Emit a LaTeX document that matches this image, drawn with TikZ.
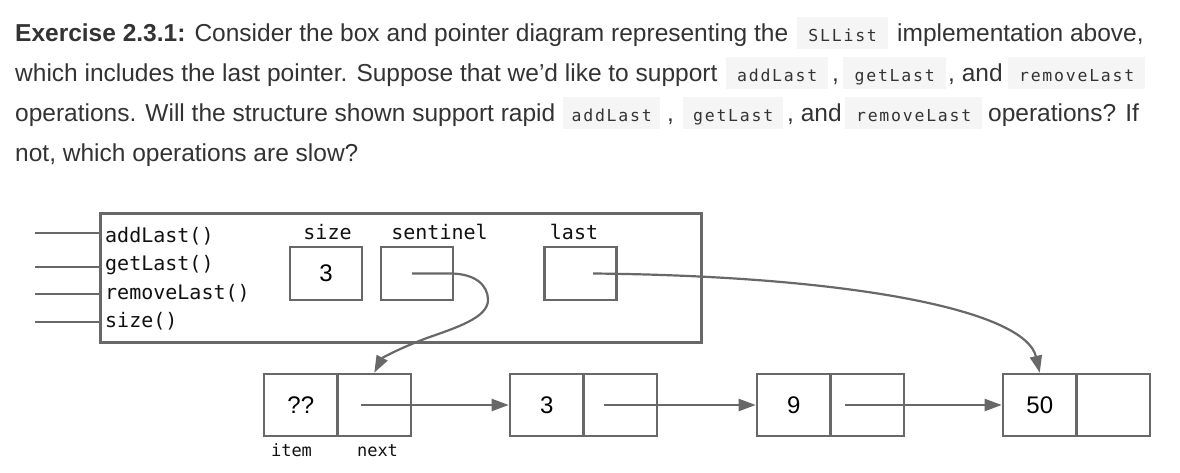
\documentclass[tikz,border=0pt]{standalone}
\usepackage{fontspec}
\setmainfont{Liberation Sans}
\newfontfamily\monofont{DejaVu Sans Mono}
\usetikzlibrary{arrows.meta,calc}
\definecolor{txt}{HTML}{333333}
\definecolor{codebg}{HTML}{F5F5F5}
\definecolor{ln}{HTML}{686868}
\definecolor{dtx}{HTML}{111111}
\makeatletter
\newcommand\spc[2]{\@tfor\mych:=#2\do{\makebox[#1][c]{\mych}}}
\makeatother
\begin{document}
\begin{tikzpicture}[x=1pt,y=-1pt,
  body/.style={anchor=base west, inner sep=0pt, text=txt, font=\fontsize{24.5}{28}\selectfont},
  code/.style={anchor=base west, inner sep=0pt, fill=codebg, text=txt, minimum height=31.5pt,
     text height=24.3pt, text depth=7.2pt, font=\monofont\fontsize{16.5}{18}\selectfont},
  box/.style={draw=ln, line width=2.6pt, inner sep=0pt},
  stub/.style={draw=ln, line width=2.6pt},
  dlabel/.style={anchor=base west, inner sep=0pt, text=dtx, font=\monofont\fontsize{20}{22}\selectfont},
  flabel/.style={anchor=base, inner sep=0pt, text=dtx, font=\monofont\fontsize{20}{22}\selectfont},
  slabel/.style={anchor=base, inner sep=0pt, text=dtx, font=\monofont\fontsize{17}{19}\selectfont},
  fieldbox/.style={box, minimum width=72pt, minimum height=53pt, font=\fontsize{24}{24}\selectfont},
  cell/.style={box, minimum width=73.5pt, minimum height=62pt, font=\fontsize{24}{24}\selectfont},
  ptr/.style={draw=ln, line width=2.2pt, -{Triangle[length=17pt,width=12pt]}}
]
\useasboundingbox[fill=white] (0,0) rectangle (1180,473);

% ---- paragraph ----
\node[body] (l1a) at (15,41.5) {\textbf{Exercise 2.3.1:} Consider the box and pointer diagram representing the};
\node[code, minimum width=91pt] (c1) at (797,41.5) {\spc{11.7pt}{SLList}};
\node[body] (l1b) at (897,41.5) {implementation above,};

\node[body] (l2a) at (15,81.5) {which includes the last pointer. Suppose that we'd like to support};
\node[code, minimum width=102pt] (c2) at (726,81.5) {\spc{11.7pt}{addLast}};
\node[body] (l2b) at (832,81.5) {,};
\node[code, minimum width=103pt] (c3) at (843,81.5) {\spc{11.7pt}{getLast}};
\node[body] (l2c) at (948,81.5) {, and};
\node[code, minimum width=137pt] (c4) at (1008,81.5) {\spc{11.7pt}{removeLast}};

\node[body] (l3a) at (15,121.5) {operations. Will the structure shown support rapid};
\node[code, minimum width=97pt] (c5) at (563,121.5) {\spc{11.7pt}{addLast}};
\node[body] (l3b) at (667,121.5) {,};
\node[code, minimum width=100pt] (c6) at (683,121.5) {\spc{11.7pt}{getLast}};
\node[body] (l3c) at (787,121.5) {, and};
\node[code, minimum width=137pt] (c7) at (845,121.5) {\spc{11.7pt}{removeLast}};
\node[body] (l3d) at (988,121.5) {operations? If};

\node[body] (l4a) at (15,161.5) {not, which operations are slow?};

% ---- object box ----
\node[box, minimum width=601pt, minimum height=129pt, anchor=north west] (obj) at (99,212) {};
\coordinate (s1) at (35,233);
\coordinate (s2) at (35,267);
\coordinate (s3) at (35,294);
\coordinate (s4) at (35,322);
\draw[stub] (s1) -- (s1 -| obj.west);
\draw[stub] (s2) -- (s2 -| obj.west);
\draw[stub] (s3) -- (s3 -| obj.west);
\draw[stub] (s4) -- (s4 -| obj.west);

\node[dlabel] (m1) at (105,242) {addLast()};
\node[dlabel] (m2) at (105,270.5) {getLast()};
\node[dlabel] (m3) at (105,299) {removeLast()};
\node[dlabel] (m4) at (105,327) {size()};

\node[flabel] (lsz) at (327.5,240) {size};
\node[flabel] (lsen) at (439.5,240) {sentinel};
\node[flabel] (llst) at (574,240) {last};

\node[fieldbox] (sz) at (326,273.5) {3};
\node[fieldbox] (sen) at (417,273.5) {};
\node[fieldbox] (lst) at (580.5,273.5) {};

% ---- list nodes ----
\node[cell] (n1i) at (300.75,405) {??};
\node[cell] (n1n) at (374.25,405) {};
\node[cell] (n2i) at (546.75,405) {3};
\node[cell] (n2n) at (620.25,405) {};
\node[cell] (n3i) at (793.75,405) {9};
\node[cell] (n3n) at (867.25,405) {};
\node[cell] (n4i) at (1039.75,405) {50};
\node[cell] (n4n) at (1113.25,405) {};

\node[slabel] (litem) at (291.5,456.5) {item};
\node[slabel] (lnext) at (377.5,456.5) {next};

% ---- pointers ----
\draw[ptr] ([xshift=-13pt]n1n.center) -- (n2i.west);
\draw[ptr] ([xshift=-16pt]n2n.center) -- (n3i.west);
\draw[ptr] ([xshift=-22pt]n3n.center) -- (n4i.west);

\draw[ptr] ([xshift=-5pt]sen.center) -- (450,273.5)
   .. controls (475,273.5) and (488,285) .. (488,300)
   .. controls (488,318) and (455,328) .. (427,338)
   .. controls (400,348) and (382,358) .. (n1n.north);

\draw[ptr] ([xshift=12.5pt]lst.center) .. controls (850,276) and (1025,310) .. (n4i.north);
\end{tikzpicture}
\end{document}
